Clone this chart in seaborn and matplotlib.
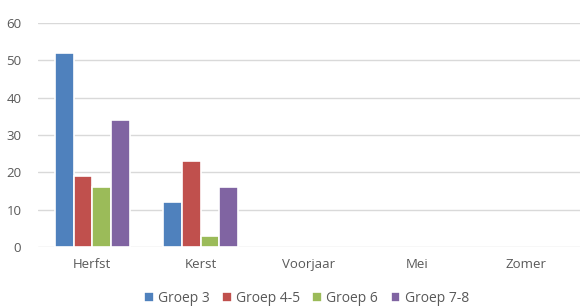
import pandas as pd
import numpy as np
import matplotlib
matplotlib.use("Agg")
import matplotlib.pyplot as plt
import seaborn as sns

# Data
periodes = ["Herfst", "Kerst", "Voorjaar", "Mei", "Zomer"]
groepen = ["Groep 3", "Groep 4-5", "Groep 6", "Groep 7-8"]
groep_3 = [52, 12, np.nan, np.nan, np.nan]
groep_4_5 = [19, 23, np.nan, np.nan, np.nan]
groep_6 = [16, 3, np.nan, np.nan, np.nan]
groep_7_8 = [34, 16, np.nan, np.nan, np.nan]
kleuren = ["#4F81BD", "#C0504D", "#9BBB59", "#8064A2"]

rows = []
for groep, waarden in zip(groepen, [groep_3, groep_4_5, groep_6, groep_7_8]):
    for periode, w in zip(periodes, waarden):
        rows.append({"Periode": periode, "Groep": groep, "Aantal": w})
data = pd.DataFrame(rows)

sns.set_style("white")
plt.rcParams["font.family"] = ["Open Sans", "DejaVu Sans"]

fig = plt.figure(figsize=(5.82, 3.07), dpi=100)
ax = fig.add_axes([0.0653, 0.1954, 0.9313, 0.7296])

sns.barplot(data=data, x="Periode", y="Aantal", hue="Groep", order=periodes,
            hue_order=groepen, palette=kleuren, width=0.69, ax=ax,
            edgecolor="white", linewidth=1.2, saturation=1, errorbar=None)

ax.set_ylim(0, 60)
ax.set_yticks(range(0, 61, 10))
ax.set_xlim(-0.5, 4.5)
ax.yaxis.grid(True, color="#D9D9D9", linewidth=1)
ax.set_axisbelow(True)
for s in ax.spines.values():
    s.set_visible(False)
ax.set_xlabel("")
ax.set_ylabel("")
ax.tick_params(axis="both", length=0, labelsize=9.5, colors="#595959")
ax.tick_params(axis="x", pad=8)
ax.tick_params(axis="y", pad=12)

ax.legend(loc="lower center", bbox_to_anchor=(0.495, -0.32), ncol=4, frameon=False,
          fontsize=10, handlelength=0.7, handleheight=0.7, handletextpad=0.3,
          columnspacing=0.9, labelcolor="#595959")

fig.savefig("out.png", dpi=100)
